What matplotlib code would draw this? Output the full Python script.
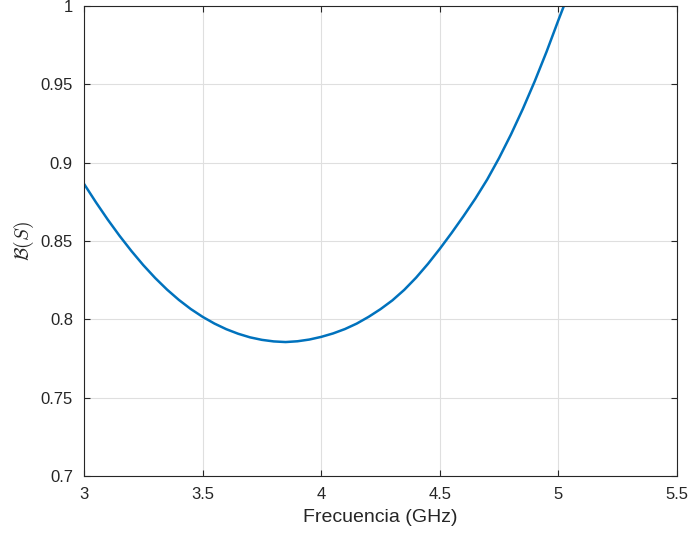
import matplotlib
matplotlib.use('Agg')
import matplotlib.pyplot as plt

plt.rcParams['font.family'] = ['Liberation Sans', 'DejaVu Sans']
plt.rcParams['mathtext.fontset'] = 'cm'

# valores
freq_ghz = [3.00, 3.05, 3.10, 3.15, 3.20, 3.25, 3.30, 3.35, 3.40, 3.45,
            3.50, 3.55, 3.60, 3.65, 3.70, 3.75, 3.80, 3.85, 3.90, 3.95,
            4.00, 4.05, 4.10, 4.15, 4.20, 4.25, 4.30, 4.35, 4.40, 4.45,
            4.50, 4.55, 4.60, 4.65, 4.70, 4.75, 4.80, 4.85, 4.90, 4.95,
            5.00, 5.023]
b_s = [0.8865, 0.8748, 0.8637, 0.8533, 0.8436, 0.8346, 0.8264, 0.8190, 0.8124, 0.8066,
       0.8016, 0.7973, 0.7937, 0.7908, 0.7885, 0.7869, 0.7859, 0.7855, 0.7860, 0.7871,
       0.7888, 0.7910, 0.7938, 0.7973, 0.8016, 0.8065, 0.8121, 0.8188, 0.8266, 0.8354,
       0.8450, 0.8552, 0.8659, 0.8771, 0.8893, 0.9030, 0.9180, 0.9343, 0.9519, 0.9708,
       0.9910, 1.0]

xticks = [3, 3.5, 4, 4.5, 5, 5.5]
yticks = [0.7, 0.75, 0.8, 0.85, 0.9, 0.95, 1]

fig = plt.figure(figsize=(6.89, 5.37), dpi=100)
ax = fig.add_axes([0.1219, 0.1136, 0.8607, 0.8752])

ax.plot(freq_ghz, b_s, color='#0072BD', linewidth=1.8)

ax.set_xlim(3, 5.5)
ax.set_ylim(0.7, 1)
ax.set_xticks(xticks)
ax.set_xticklabels(['3', '3.5', '4', '4.5', '5', '5.5'])
ax.set_yticks(yticks)
ax.set_yticklabels(['0.7', '0.75', '0.8', '0.85', '0.9', '0.95', '1'])

ax.grid(True, color='#DFDFDF', linewidth=0.8)
ax.set_axisbelow(True)
ax.tick_params(direction='in', top=True, right=True, length=4, pad=8,
               labelsize=12, colors='#262626', width=0.8)
for s in ax.spines.values():
    s.set_color('#262626')
    s.set_linewidth(0.8)

ax.set_xlabel('Frecuencia (GHz)', fontsize=14, color='#262626', labelpad=5)
ax.set_ylabel(r'$\mathcal{B}(S)$', fontsize=14, color='#262626', labelpad=3)

fig.savefig('out.png', dpi=100)
